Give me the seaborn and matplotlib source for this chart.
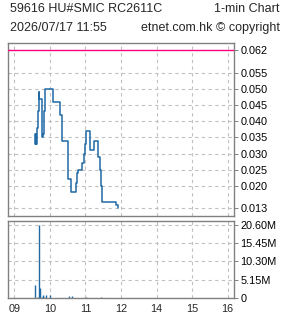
import matplotlib
matplotlib.use("Agg")
import matplotlib.pyplot as plt
import seaborn as sns
import pandas as pd

# ---- data ----
# price steps: minutes after 09:00, price
price_minutes = [34.3, 35.5, 36.3, 37.0, 37.7, 39.4, 41.1, 41.7, 46.3, 48.0, 50.9, 52.6,
                 65.0, 77.6, 79.8, 91.4, 96.3, 103.5, 105.1, 106.8, 114.5, 117.2, 120.0,
                 121.1, 128.0, 133.7, 141.1, 145.1, 146.9, 148.6, 172.0, 174.3, 175.0]
price_values = [0.036, 0.033, 0.036, 0.033, 0.038, 0.043, 0.049, 0.047, 0.035, 0.036, 0.043, 0.050,
                0.046, 0.042, 0.034, 0.022, 0.018, 0.021, 0.024, 0.025, 0.027, 0.030, 0.033,
                0.037, 0.031, 0.034, 0.029, 0.025, 0.020, 0.015, 0.014, 0.013, 0.013]
# volume bars: minutes after 09:00, volume (millions)
vol_minutes = [34.3, 39.4, 41.1, 42.9, 46.3, 48.0, 49.7, 53.1, 60.0, 93.0, 98.0, 121.0, 147.0]
vol_values = [3.6, 0.3, 20.6, 2.8, 0.3, 0.7, 0.3, 0.9, 0.9, 0.6, 0.6, 0.3, 0.3]

prev_close = 0.062
price_ticks = [0.062, 0.055, 0.050, 0.045, 0.040, 0.035, 0.030, 0.025, 0.020, 0.013]
vol_ticks = [0, 5.15, 10.30, 15.45, 20.60]
vol_tick_labels = ["0", "5.15M", "10.30M", "15.45M", "20.60M"]
hour_ticks = [0, 1, 2, 3, 4, 5, 6]
hour_labels = ["09", "10", "11", "12", "14", "15", "16"]

title_left1 = "59616 HU#SMIC RC2611C"
title_right1 = "1-min Chart"
title_left2 = "2026/07/17 11:55"
title_right2 = "etnet.com.hk \u00a9 copyright"

# ---- style ----
sns.set_style("white")
plt.rcParams["font.family"] = ["Liberation Sans", "DejaVu Sans"]

W, H = 285, 318
fig = plt.figure(figsize=(W / 100, H / 100), dpi=100)

def rect(l, t, r, b):
    return [l / W, 1 - b / H, (r - l) / W, (b - t) / H]

ax1 = fig.add_axes(rect(8.3, 43, 234, 216))
ax2 = fig.add_axes(rect(8.3, 221, 234, 297.7))

line_col = "#1f6aa5"
grid_col = "#c0c0c0"
frame_col = "#808080"

df = pd.DataFrame({"t": [m / 60 for m in price_minutes], "p": price_values})
sns.lineplot(data=df, x="t", y="p", ax=ax1, drawstyle="steps-post",
             color=line_col, lw=1.1, estimator=None, sort=False)
ax1.axhline(prev_close, color="#ff0080", lw=1.0, zorder=3)

vdf = pd.DataFrame({"t": [m / 60 for m in vol_minutes], "v": vol_values})
ax2.vlines(vdf["t"], 0, vdf["v"], color=line_col, lw=1.0)

xl = (-0.169, 6.177)
for ax in (ax1, ax2):
    ax.set_xlim(*xl)
    ax.set_xticks(hour_ticks)
    ax.grid(True, color=grid_col, ls=(0, (3, 3)), lw=0.8)
    ax.set_axisbelow(True)
    for s in ax.spines.values():
        s.set_color(frame_col)
        s.set_linewidth(1.0)
    ax.yaxis.tick_right()
    ax.tick_params(axis="y", which="both", direction="out", length=3, width=0.7,
                   color=frame_col, labelsize=7.8, pad=1.5, labelcolor="black")
    ax.set_xlabel("")
    ax.set_ylabel("")

ax1.set_ylim(0.01068, 0.06416)
ax1.set_yticks(price_ticks)
ax1.set_yticklabels([f"{v:.3f}" for v in price_ticks])
ax1.tick_params(axis="x", length=0, labelbottom=False)

ax2.set_ylim(0, 21.73)
ax2.set_yticks(vol_ticks)
ax2.set_yticklabels(vol_tick_labels)
ax2.set_xticklabels(hour_labels)
ax2.tick_params(axis="x", direction="out", length=3, width=0.7, color=frame_col,
                labelsize=7.8, pad=1.5)

fs = 9.0
fig.text(10 / W, 1 - 9 / H, title_left1, ha="left", va="center", fontsize=fs)
fig.text(280 / W, 1 - 9 / H, title_right1, ha="right", va="center", fontsize=fs)
fig.text(10 / W, 1 - 28 / H, title_left2, ha="left", va="center", fontsize=fs)
fig.text(280 / W, 1 - 28 / H, title_right2, ha="right", va="center", fontsize=fs)

fig.savefig("out.png", dpi=100)
